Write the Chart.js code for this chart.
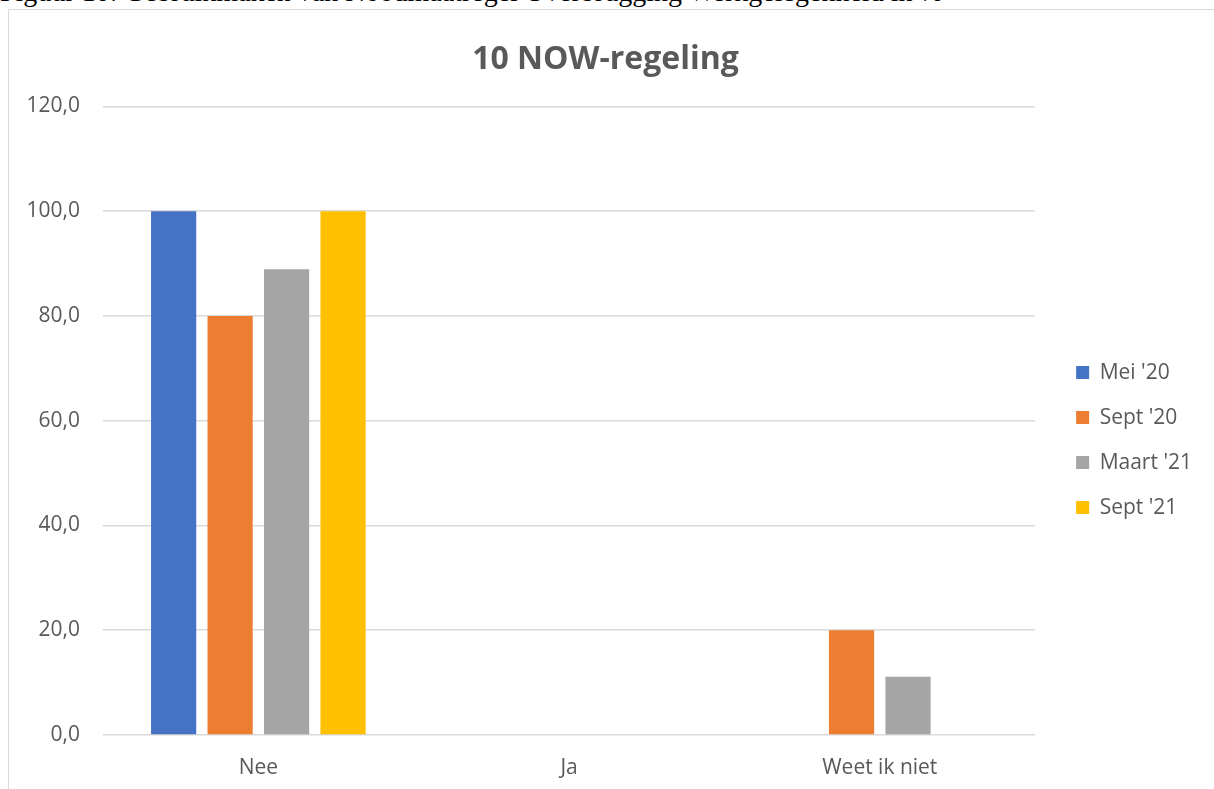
<!DOCTYPE html>
<html>
<head>
<meta charset="utf-8">
<script src="https://cdn.jsdelivr.net/npm/chart.js@4"></script>
<style>
  html, body { margin: 0; padding: 0; background: #fff; overflow: hidden; }
  body { width: 1214px; height: 789px; position: relative; }
  #caption { position: absolute; left: 0; top: -22px; font-family: "Liberation Serif", serif; font-size: 28px; line-height: 1; color: #000; white-space: nowrap; }
  #frame { position: absolute; left: 8px; top: 9px; width: 1206px; height: 780px; border-left: 1px solid #d9d9d9; border-top: 1px solid #d9d9d9; box-sizing: border-box; }
  #wrap { position: absolute; left: 9px; top: 10px; width: 1205px; height: 779px; }
</style>
</head>
<body>
<div id="caption">Figuur 10: Gebruikmaken van Noodmaatregel Overbrugging Werkgelegenheid in %</div>
<div id="frame"></div>
<div id="wrap"><canvas id="c"></canvas></div>
<script>
const categories = ["Nee", "Ja", "Weet ik niet"];
const seriesNames = ["Mei '20", "Sept '20", "Maart '21", "Sept '21"];
const mei20 = [100, 0, 0];
const sept20 = [80, 0, 20];
const maart21 = [88.9, 0, 11.1];
const sept21 = [100, 0, 0];
const colors = ["#4472c4", "#ed7d31", "#a5a5a5", "#ffc000"];
const yTicks = [0, 20, 40, 60, 80, 100, 120];

const FONT = "'Open Sans', sans-serif";
const values = [mei20, sept20, maart21, sept21];

new Chart(document.getElementById('c'), {
  type: 'bar',
  data: {
    labels: categories,
    datasets: seriesNames.map((n, i) => ({
      label: n,
      data: values[i],
      backgroundColor: colors[i],
      borderWidth: 0,
      categoryPercentage: 0.727,
      barPercentage: 0.8
    }))
  },
  options: {
    responsive: true,
    maintainAspectRatio: false,
    animation: false,
    layout: { padding: { left: 0, right: 12, top: 0, bottom: 9 } },
    plugins: {
      title: {
        display: true,
        text: '10 NOW-regeling',
        color: '#595959',
        font: { family: FONT, size: 32, weight: 'bold' },
        padding: { top: 31, bottom: 27 }
      },
      legend: {
        position: 'right',
        title: { display: true, text: '', font: { size: 1 }, padding: { top: 89, bottom: 0 } },
        labels: {
          boxWidth: 13,
          boxHeight: 13,
          color: '#595959',
          font: { family: FONT, size: 21 },
          padding: 24
        }
      },
      tooltip: { enabled: false }
    },
    scales: {
      x: {
        grid: { display: false, drawTicks: false },
        border: { display: false },
        afterFit: (axis) => { axis.height = 45; },
        ticks: { color: '#595959', font: { family: FONT, size: 21 }, padding: 20 }
      },
      y: {
        min: 0,
        max: 120,
        afterBuildTicks: (axis) => { axis.ticks = yTicks.map(v => ({ value: v })); },
        afterFit: (axis) => { axis.width = 94; },
        grid: { color: '#d9d9d9', lineWidth: 1.5, drawTicks: false },
        border: { display: false },
        ticks: {
          color: '#595959',
          font: { family: FONT, size: 21 },
          padding: 23,
          callback: (v) => v.toFixed(1).replace('.', ',')
        }
      },
      spacer: {
        position: 'right',
        display: true,
        grid: { display: false, drawTicks: false },
        border: { display: false },
        ticks: { display: false },
        afterFit: (axis) => { axis.width = 17; }
      }
    }
  }
});
</script>
</body>
</html>
